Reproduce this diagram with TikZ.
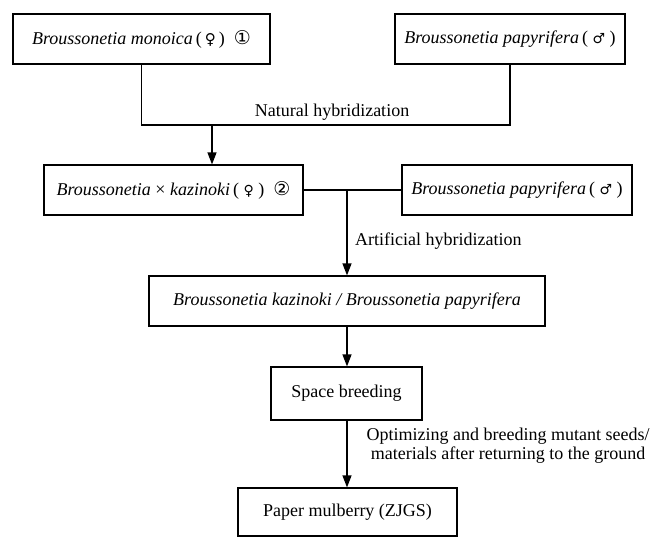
\documentclass[tikz,border=0pt]{standalone}
\usepackage{fontspec}
\setmainfont{Liberation Serif}
\newfontfamily\symfont{DejaVu Sans}
\usetikzlibrary{arrows.meta}
\begin{document}
\begin{tikzpicture}[x=1pt,y=-1pt,
  box/.style={draw,line width=1.2pt,minimum height=50pt,inner sep=0pt,font=\fontsize{18}{21}\selectfont},
  lbl/.style={inner sep=0pt,font=\fontsize{18}{19}\selectfont},
  conn/.style={line width=1.2pt},
  arr/.style={line width=1.2pt,-{Triangle[width=9pt,length=12pt]}}]
\useasboundingbox (0,0) rectangle (653,536);
\node[box,minimum width=257pt] (b1) at (141.5,39) {\textit{Broussonetia monoica}\,(\,{\symfont\fontsize{15}{18}\selectfont ♀}\,)\enspace{\symfont\fontsize{19}{18}\selectfont ①}};
\node[box,minimum width=230pt] (b2) at (510,39) {\textit{Broussonetia papyrifera}\,( {\symfont\fontsize{14}{18}\selectfont ♂} )};
\node[box,minimum width=259pt] (b3) at (173.5,190) {\textit{Broussonetia} × \textit{kazinoki}\,( {\symfont\fontsize{14}{18}\selectfont ♀} )\enspace{\symfont\fontsize{19}{18}\selectfont ②}};
\node[box,minimum width=230pt] (b4) at (517,190) {\textit{Broussonetia papyrifera}\,( {\symfont\fontsize{14}{18}\selectfont ♂} )};
\node[box,minimum width=396pt] (b5) at (347,301) {\textit{Broussonetia kazinoki / Broussonetia papyrifera}};
\node[box,minimum width=151pt,minimum height=53pt] (b6) at (346.5,393.5) {Space breeding};
\node[box,minimum width=219pt,minimum height=48pt] (b7) at (347.5,512) {Paper mulberry (ZJGS)};
\node[lbl] (l1) at (332,112) {Natural hybridization};
\node[lbl,anchor=west] (l2) at (355,241) {Artificial hybridization};
\node[lbl,align=center] (l3) at (508,446) {Optimizing and breeding mutant seeds/\\materials after returning to the ground};
\coordinate (jl) at (141.5,125);
\coordinate (jr) at (510,125);
\coordinate (ja) at (212,125);
\coordinate (jb) at (347,190);
\draw[conn] (b1.south) -- (jl) -- (jr) -- (b2.south);
\draw[arr] (ja) -- (ja |- b3.north);
\draw[conn] (b3.east) -- (b4.west);
\draw[arr] (jb) -- (jb |- b5.north);
\draw[arr] (b5.south -| jb) -- (jb |- b6.north);
\draw[arr] (jb |- b6.south) -- (jb |- b7.north);
\end{tikzpicture}
\end{document}
